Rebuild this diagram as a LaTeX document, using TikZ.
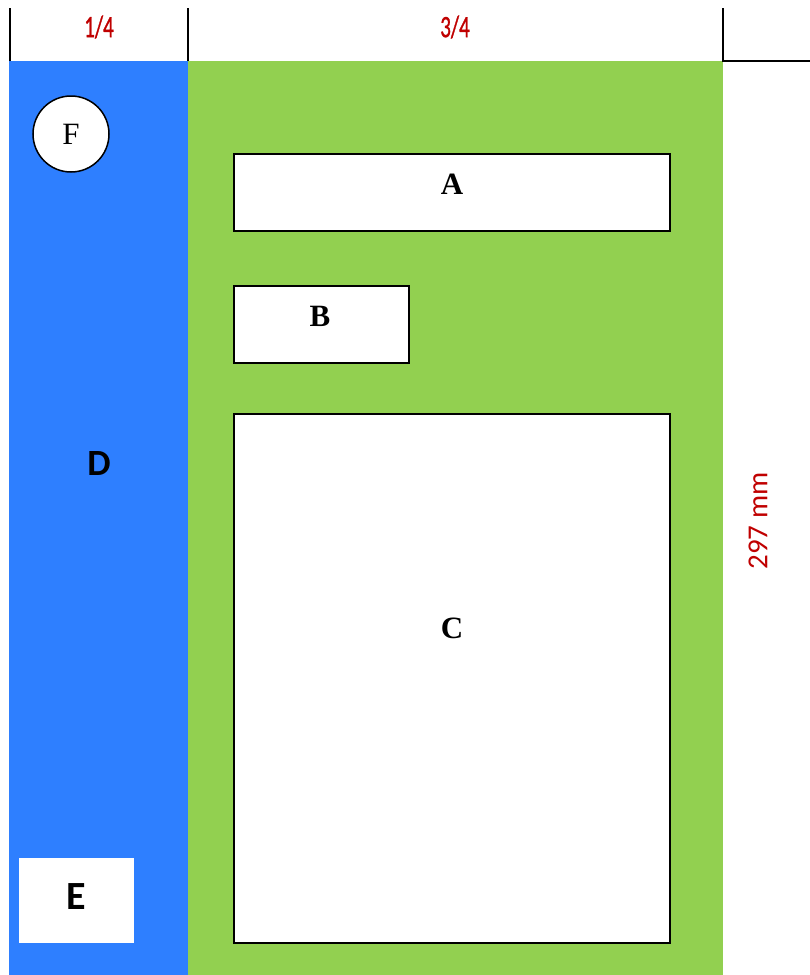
\documentclass[tikz,border=0pt]{standalone}
\usepackage{fontspec}
\usepackage{graphicx}
\setmainfont{Liberation Serif}
\newfontfamily\calib{Carlito}
\newfontfamily\calibfat[FakeBold=1.2]{Carlito}
\definecolor{myblue}{RGB}{46,127,255}
\definecolor{mygreen}{RGB}{146,208,80}
\definecolor{myred}{RGB}{192,0,0}
\begin{document}
\begin{tikzpicture}[x=1pt,y=-1pt,
  box/.style={draw=black,line width=1.5pt,fill=white},
  serifl/.style={font=\fontsize{31}{31}\selectfont\bfseries},
  sansl/.style={font=\calib\fontsize{37}{37}\selectfont\bfseries},
  redl/.style={text=myred,font=\calib\fontsize{29}{29}\selectfont},
  fracl/.style={text=myred,font=\calibfat\fontsize{31}{31}\selectfont},
  rule/.style={draw=black,line width=1.5pt}]
\useasboundingbox (0,0) rectangle (810,975);
\fill[white] (0,0) rectangle (810,975);
% backgrounds
\fill[myblue] (9,61) rectangle (188,975);
\fill[mygreen] (188,61) rectangle (723,975);
% header rules
\coordinate (t1) at (10,8); \coordinate (b1) at (10,61);
\coordinate (t2) at (188,8); \coordinate (b2) at (188,61);
\coordinate (t3) at (723,8); \coordinate (b3) at (723,61);
\coordinate (r3) at (810,61);
\draw[rule] (t1) -- (b1);
\draw[rule] (t2) -- (b2);
\draw[rule] (t3) -- (b3) -- (r3);
\node[fracl] (q1) at (99,27) {\scalebox{0.68}[1]{1/4}};
\node[fracl] (q3) at (455,27) {\scalebox{0.68}[1]{3/4}};
\node[redl,rotate=90] (mm) at (758,521) {297 mm};
% boxes
\node[box,minimum width=436pt,minimum height=77pt,inner sep=0pt] (A) at (452,192.5) {};
\node[serifl] at (452,184) {A};
\node[box,minimum width=175pt,minimum height=77pt,inner sep=0pt] (B) at (321.5,324.5) {};
\node[serifl] at (320,316) {B};
\node[box,minimum width=436pt,minimum height=529pt,inner sep=0pt] (C) at (452,678.5) {};
\node[serifl] at (452,628) {C};
\node[circle,draw=black,line width=1.5pt,fill=white,minimum size=76pt,inner sep=0pt,font=\fontsize{31}{31}\selectfont] (F) at (71,134) {F};
\node[sansl] (D) at (99,463) {D};
\node[fill=white,minimum width=115pt,minimum height=85pt,inner sep=0pt] (Ebox) at (76.5,900.5) {};
\node[sansl,font=\calib\fontsize{40}{40}\selectfont\bfseries] (E) at (76,897) {E};
\end{tikzpicture}
\end{document}
